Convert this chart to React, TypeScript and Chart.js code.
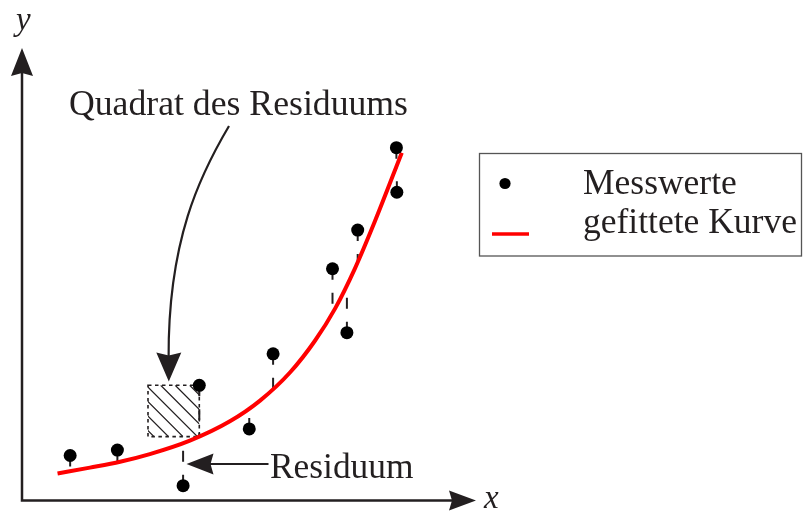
import React, { useEffect, useRef } from 'react';
import { Chart, registerables } from 'chart.js';

Chart.register(...registerables);

// ---- data (arbitrary units: x 0..10, y 0..10) ----
const measuredX = [1.07, 2.12, 3.58, 3.94, 5.05, 5.58, 6.9, 7.22, 7.46, 8.33, 8.32];
const measuredY = [1.0, 1.12, 0.33, 2.56, 1.59, 3.26, 5.15, 3.73, 6.01, 6.85, 7.84];
const fittedAtMeasured = [0.65, 0.85, 1.27, 1.42, 2.04, 2.47, 4.18, 4.76, 5.3, 7.41, 7.39];
const curveX = [0.79, 1.51, 2.18, 2.84, 3.73, 4.62, 5.29, 5.96, 6.51, 6.96, 7.4, 7.84, 8.44];
const curveY = [0.6, 0.73, 0.86, 1.03, 1.33, 1.76, 2.22, 2.85, 3.55, 4.27, 5.16, 6.2, 7.73];
const squareIndex = 3;
const legendLabels = ['Messwerte', 'gefittete Kurve'];
const squareLabel = 'Quadrat des Residuums';
const residualLabel = 'Residuum';
const axisNames = ['x', 'y'];

const SERIF = '"Liberation Serif", "Times New Roman", serif';
const INK = '#231f20';
const RED = '#ff0000';

function arrowHead(ctx: CanvasRenderingContext2D, tipX: number, tipY: number, angle: number, len: number, half: number, inset: number) {
  ctx.save();
  ctx.translate(tipX, tipY);
  ctx.rotate(angle);
  ctx.beginPath();
  ctx.moveTo(0, 0);
  ctx.lineTo(-len, -half);
  ctx.lineTo(-len + inset, 0);
  ctx.lineTo(-len, half);
  ctx.closePath();
  ctx.fill();
  ctx.restore();
}

const decorPlugin = {
  id: 'decor',
  beforeDatasetsDraw(chart: any) {
    const { ctx, scales } = chart;
    const xs = scales.x;
    const ys = scales.y;
    const i = squareIndex;
    const side = measuredY[i] - fittedAtMeasured[i];
    const left = xs.getPixelForValue(measuredX[i] - side);
    const right = xs.getPixelForValue(measuredX[i]);
    const top = ys.getPixelForValue(measuredY[i]);
    const bottom = ys.getPixelForValue(fittedAtMeasured[i]);
    const w = right - left;
    const h = bottom - top;
    ctx.save();
    ctx.beginPath();
    ctx.rect(left, top, w, h);
    ctx.clip();
    ctx.strokeStyle = INK;
    ctx.lineWidth = 1.3;
    ctx.beginPath();
    for (let k = -h + 6; k < w; k += 14.5) {
      ctx.moveTo(left + k, top);
      ctx.lineTo(left + k + h, bottom);
    }
    ctx.stroke();
    ctx.restore();
    ctx.save();
    ctx.strokeStyle = INK;
    ctx.lineWidth = 1.6;
    ctx.setLineDash([3.5, 3.5]);
    ctx.strokeRect(left, top, w, h);
    ctx.restore();
  },
  afterDatasetsDraw(chart: any) {
    const { ctx, chartArea: a } = chart;
    ctx.save();
    ctx.strokeStyle = INK;
    ctx.fillStyle = INK;
    ctx.lineWidth = 2.5;
    ctx.lineJoin = 'miter';
    ctx.beginPath();
    ctx.moveTo(a.left, a.top + 20);
    ctx.lineTo(a.left, a.bottom);
    ctx.lineTo(a.right - 10, a.bottom);
    ctx.stroke();
    arrowHead(ctx, a.left, a.top - 2.5, -Math.PI / 2, 28, 11, 3);
    arrowHead(ctx, a.right + 4, a.bottom, 0, 27, 10, 3);

    // axis names
    ctx.font = 'italic 33px ' + SERIF;
    ctx.textBaseline = 'alphabetic';
    ctx.textAlign = 'left';
    ctx.fillText(axisNames[1], 16, 30);
    ctx.fillText(axisNames[0], 484, 508);

    // curved annotation arrow
    ctx.lineWidth = 2.2;
    ctx.beginPath();
    ctx.moveTo(229, 126);
    ctx.bezierCurveTo(200, 175, 168, 240, 168.6, 358);
    ctx.stroke();
    arrowHead(ctx, 168.8, 381.5, Math.PI / 2, 29, 12.5, 3);

    // residual annotation arrow
    ctx.beginPath();
    ctx.moveTo(268.5, 464);
    ctx.lineTo(210, 464);
    ctx.stroke();
    arrowHead(ctx, 186.5, 464, Math.PI, 27, 10.5, 3);

    ctx.font = '35.7px ' + SERIF;
    ctx.fillText(squareLabel, 69, 115);
    ctx.font = '35.4px ' + SERIF;
    ctx.fillText(residualLabel, 270, 478);

    // legend
    ctx.strokeStyle = '#555';
    ctx.lineWidth = 1.3;
    ctx.strokeRect(479.5, 153.5, 322, 102.5);
    ctx.fillStyle = '#000';
    ctx.beginPath();
    ctx.arc(505, 183.5, 5.6, 0, Math.PI * 2);
    ctx.fill();
    ctx.strokeStyle = RED;
    ctx.lineWidth = 3.6;
    ctx.beginPath();
    ctx.moveTo(492, 234);
    ctx.lineTo(529, 234);
    ctx.stroke();
    ctx.fillStyle = INK;
    ctx.font = '35.5px ' + SERIF;
    ctx.fillText(legendLabels[0], 583, 194);
    ctx.fillText(legendLabels[1], 583, 233);
    ctx.restore();
  },
};

export default function App() {
  const ref = useRef<HTMLCanvasElement | null>(null);
  useEffect(() => {
    if (!ref.current) return;
    const residualSets = measuredX.map((x, i) => ({
      type: 'line' as const,
      data: [
        { x, y: measuredY[i] },
        { x, y: fittedAtMeasured[i] },
      ],
      borderColor: INK,
      borderWidth: 2,
      borderDash: [11, 13],
      borderCapStyle: 'butt' as const,
      pointRadius: 0,
      fill: false,
      showLine: true,
      order: 2,
    }));
    const chart = new Chart(ref.current, {
      type: 'line',
      data: {
        datasets: [
          {
            label: legendLabels[0],
            data: measuredX.map((x, i) => ({ x, y: measuredY[i] })),
            showLine: false,
            pointRadius: 6.5,
            pointBackgroundColor: '#000',
            pointBorderWidth: 0,
            backgroundColor: '#000',
            borderColor: '#000',
            order: 0,
          },
          {
            label: legendLabels[1],
            data: curveX.map((x, i) => ({ x, y: curveY[i] })),
            borderColor: RED,
            borderWidth: 4,
            pointRadius: 0,
            cubicInterpolationMode: 'monotone',
            fill: false,
            order: 1,
          },
          ...residualSets,
        ] as any,
      },
      options: {
        responsive: false,
        devicePixelRatio: 1,
        animation: false,
        events: [],
        layout: { padding: { left: 22, right: 332, top: 50.5, bottom: 10.5 } },
        scales: {
          x: { type: 'linear', min: 0, max: 10, display: false },
          y: { type: 'linear', min: 0, max: 10, display: false },
        },
        plugins: {
          legend: { display: false },
          tooltip: { enabled: false },
        },
      },
      plugins: [decorPlugin],
    });
    return () => chart.destroy();
  }, []);
  return (
    <div style={{ position: 'absolute', left: 0, top: 0, width: 804, height: 511, background: '#fff' }}>
      <canvas ref={ref} width={804} height={511} style={{ display: 'block' }} />
    </div>
  );
}
